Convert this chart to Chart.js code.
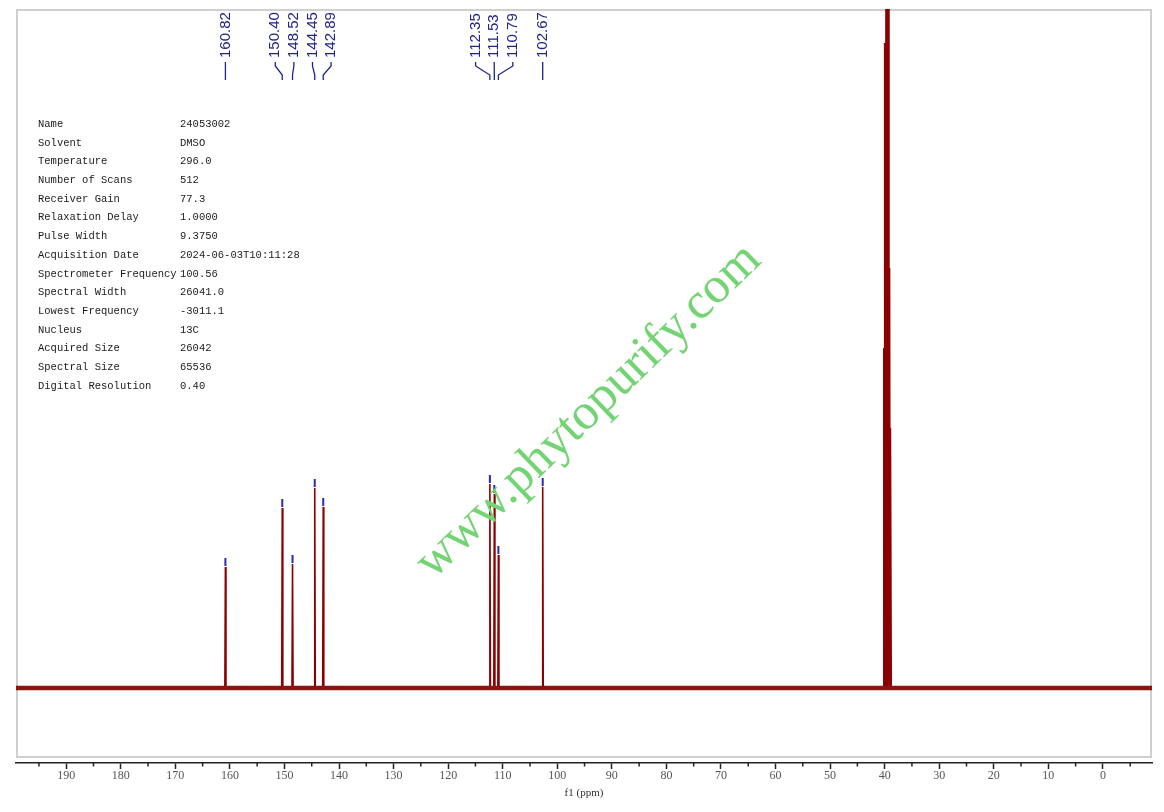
<!DOCTYPE html>
<html>
<head>
<meta charset="utf-8">
<title>13C NMR 24053002</title>
<script src="https://cdn.jsdelivr.net/npm/chart.js@4.4.1/dist/chart.umd.min.js"></script>
<style>
  html, body { margin: 0; padding: 0; background: #fff; }
  #wrap { position: relative; width: 1164px; height: 812px; }
</style>
</head>
<body>
<div id="wrap"><canvas id="nmrChart"></canvas></div>
<script>
// picked peaks (ppm) and their heights (arbitrary units)
var peakShifts = [160.82, 150.40, 148.52, 144.45, 142.89, 112.35, 111.53, 110.79, 102.67];
var peakHeights = [121, 180, 124, 200, 181, 204, 194, 133, 201];

// DMSO-d6 septet, runs off the top of the plot
var solventShifts = [40.15, 39.94, 39.73, 39.52, 39.31, 39.10, 38.89];
var solventHeights = [340, 645, 900, 1100, 900, 420, 260];

// axis ticks
var majorTicks = [190, 180, 170, 160, 150, 140, 130, 120, 110, 100, 90, 80, 70, 60, 50, 40, 30, 20, 10, 0];
var minorTicks = [195, 185, 175, 165, 155, 145, 135, 125, 115, 105, 95, 85, 75, 65, 55, 45, 35, 25, 15, 5, -5];

// acquisition parameters
var paramNames = ['Name', 'Solvent', 'Temperature', 'Number of Scans', 'Receiver Gain', 'Relaxation Delay',
  'Pulse Width', 'Acquisition Date', 'Spectrometer Frequency', 'Spectral Width', 'Lowest Frequency',
  'Nucleus', 'Acquired Size', 'Spectral Size', 'Digital Resolution'];
var paramValues = ['24053002', 'DMSO', '296.0', '512', '77.3', '1.0000', '9.3750', '2024-06-03T10:11:28',
  '100.56', '26041.0', '-3011.1', '13C', '26042', '65536', '0.40'];

var xMin = -9.0, xMax = 199.2;
var yMin = -75, yMax = 679;

// turn each line into a thin spike on the baseline
function spikes(shifts, heights) {
  var pts = [];
  shifts.forEach(function (s, i) {
    pts.push({ x: s + 0.1, y: 0 }, { x: s, y: heights[i] }, { x: s - 0.1, y: 0 });
  });
  return pts;
}

var spectrum = [{ x: xMax, y: 0 }]
  .concat(spikes(peakShifts, peakHeights))
  .concat(spikes(solventShifts, solventHeights))
  .concat([{ x: xMin, y: 0 }]);

var navy = '#1f2488';

// frame box, minor ticks
var framePlugin = {
  id: 'frame',
  beforeDatasetsDraw: function (chart) {
    var a = chart.chartArea, ctx = chart.ctx;
    ctx.save();
    ctx.strokeStyle = '#cfcfcf';
    ctx.lineWidth = 2;
    ctx.strokeRect(a.left + 1, a.top + 1, a.right - a.left - 2, a.bottom - a.top - 7);
    ctx.restore();
  },
  afterDraw: function (chart) {
    var xs = chart.scales.x, ctx = chart.ctx, b = chart.chartArea.bottom;
    ctx.save();
    ctx.strokeStyle = '#222';
    ctx.lineWidth = 1.5;
    minorTicks.forEach(function (v) {
      var px = xs.getPixelForValue(v);
      ctx.beginPath();
      ctx.moveTo(px, b);
      ctx.lineTo(px, b + 3.5);
      ctx.stroke();
    });
    ctx.restore();
  }
};

// peak markers + rotated shift labels at the top
var peakLabelPlugin = {
  id: 'peakLabels',
  afterDatasetsDraw: function (chart) {
    var xs = chart.scales.x, ys = chart.scales.y, ctx = chart.ctx;
    var px = peakShifts.map(function (s) { return xs.getPixelForValue(s); });

    ctx.save();
    ctx.strokeStyle = '#2a2ab4';
    ctx.lineWidth = 2;
    peakShifts.forEach(function (s, i) {
      var py = ys.getPixelForValue(peakHeights[i]);
      ctx.beginPath();
      ctx.moveTo(px[i], py - 1);
      ctx.lineTo(px[i], py - 9);
      ctx.stroke();
    });
    ctx.restore();

    // spread crowded labels
    var gap = 18.6;
    var groups = px.map(function (p, i) { return { idx: [i], center: p }; });
    var merged = true;
    while (merged) {
      merged = false;
      for (var g = 0; g < groups.length - 1; g++) {
        var a = groups[g], b = groups[g + 1];
        var aRight = a.center + (a.idx.length - 1) * gap / 2;
        var bLeft = b.center - (b.idx.length - 1) * gap / 2;
        if (bLeft - aRight < gap) {
          var idx = a.idx.concat(b.idx);
          var sum = 0;
          idx.forEach(function (k) { sum += px[k]; });
          groups.splice(g, 2, { idx: idx, center: sum / idx.length });
          merged = true;
          break;
        }
      }
    }

    ctx.save();
    ctx.strokeStyle = navy;
    ctx.fillStyle = navy;
    ctx.lineWidth = 1.3;
    ctx.font = '15px "Liberation Sans", Arial, sans-serif';
    groups.forEach(function (grp) {
      grp.idx.forEach(function (k, j) {
        var lx = grp.center + (j - (grp.idx.length - 1) / 2) * gap;
        ctx.beginPath();
        ctx.moveTo(lx, 62);
        ctx.lineTo(lx, 66);
        ctx.lineTo(px[k], 75);
        ctx.lineTo(px[k], 80);
        ctx.stroke();
        ctx.save();
        ctx.translate(lx, 58);
        ctx.rotate(-Math.PI / 2);
        ctx.textAlign = 'left';
        ctx.textBaseline = 'middle';
        ctx.fillText(peakShifts[k].toFixed(2), 0, 0);
        ctx.restore();
      });
    });
    ctx.restore();
  }
};

// parameter table + watermark
var textPlugin = {
  id: 'texts',
  afterDraw: function (chart) {
    var ctx = chart.ctx;
    ctx.save();
    ctx.fillStyle = '#1a1a1a';
    ctx.font = '10.5px "Liberation Mono", "DejaVu Sans Mono", monospace';
    ctx.textBaseline = 'middle';
    paramNames.forEach(function (n, i) {
      var y = 124 + i * 18.72;
      ctx.fillText(n, 38, y);
      ctx.fillText(paramValues[i], 180, y);
    });
    ctx.restore();

    ctx.save();
    ctx.translate(598, 421);
    ctx.rotate(-44 * Math.PI / 180);
    ctx.font = '51px "Liberation Serif", "Times New Roman", serif';
    ctx.fillStyle = '#72d472';
    ctx.textAlign = 'center';
    ctx.textBaseline = 'alphabetic';
    ctx.fillText('www.phytopurify.com', 0, 0);
    ctx.restore();
  }
};

var config = {
  type: 'line',
  data: {
    datasets: [{
      label: 'baseline',
      data: [{ x: xMax, y: 0 }, { x: xMin, y: 0 }],
      borderColor: '#8a1414',
      borderWidth: 4.5,
      pointRadius: 0
    }, {
      label: '13C',
      data: spectrum,
      borderColor: '#8b0000',
      borderWidth: 1.6,
      pointRadius: 0,
      tension: 0
    }]
  },
  options: {
    responsive: true,
    maintainAspectRatio: false,
    animation: false,
    layout: { padding: { left: 16, right: 12, top: 9, bottom: 0 } },
    plugins: {
      legend: { display: false },
      tooltip: { enabled: false }
    },
    scales: {
      x: {
        type: 'linear',
        reverse: true,
        min: xMin,
        max: xMax,
        afterBuildTicks: function (scale) {
          scale.ticks = majorTicks.map(function (v) { return { value: v }; });
        },
        afterFit: function (scale) { scale.height = 49; },
        grid: {
          display: true,
          drawOnChartArea: false,
          drawTicks: true,
          tickLength: 6,
          tickColor: '#222',
          tickWidth: 1.5
        },
        border: { display: true, color: '#222', width: 1.5 },
        ticks: {
          padding: 0,
          maxRotation: 0,
          autoSkip: false,
          color: '#555',
          font: { family: '"Liberation Serif", "Times New Roman", serif', size: 12 }
        },
        title: {
          display: true,
          text: 'f1 (ppm)',
          color: '#333',
          padding: { top: 0, bottom: 12 },
          font: { family: '"Liberation Serif", "Times New Roman", serif', size: 11 }
        }
      },
      y: {
        display: false,
        min: yMin,
        max: yMax
      }
    }
  },
  plugins: [framePlugin, peakLabelPlugin, textPlugin]
};

var myChart = new Chart(document.getElementById('nmrChart'), config);
</script>
</body>
</html>
